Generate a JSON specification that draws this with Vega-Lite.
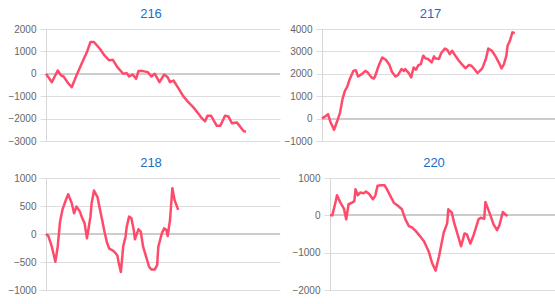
{
  "$schema": "https://vega.github.io/schema/vega-lite/v6.json",
  "padding": {"left": 7, "top": 8, "right": 0, "bottom": 0},
  "datasets": {
    "p216": [
      {"i":0,"v":0},{"i":5,"v":-375},{"i":10,"v":150},{"i":13,"v":-75},{"i":15,"v":-120},{"i":19,"v":-420},{"i":22,"v":-600},{"i":26,"v":-75},{"i":31,"v":520},{"i":35,"v":970},{"i":38,"v":1420},{"i":41,"v":1420},{"i":46,"v":1120},{"i":50,"v":820},{"i":54,"v":600},{"i":57,"v":630},{"i":61,"v":300},{"i":66,"v":0},{"i":69,"v":30},{"i":71,"v":-120},{"i":74,"v":-30},{"i":77,"v":-225},{"i":79,"v":120},{"i":83,"v":120},{"i":87,"v":75},{"i":90,"v":-120},{"i":93,"v":0},{"i":97,"v":-375},{"i":101,"v":-30},{"i":104,"v":-150},{"i":106,"v":-375},{"i":109,"v":-300},{"i":113,"v":-630},{"i":117,"v":-975},{"i":121,"v":-1230},{"i":126,"v":-1500},{"i":130,"v":-1760},{"i":133,"v":-1970},{"i":136,"v":-2120},{"i":138,"v":-1870},{"i":141,"v":-1870},{"i":146,"v":-2320},{"i":149,"v":-2320},{"i":153,"v":-1870},{"i":156,"v":-1910},{"i":159,"v":-2210},{"i":163,"v":-2170},{"i":166,"v":-2360},{"i":169,"v":-2570},{"i":171,"v":-2580}
    ],
    "p217": [
      {"i":0,"v":0},{"i":4,"v":150},{"i":5,"v":200},{"i":7,"v":-150},{"i":10,"v":-500},{"i":13,"v":-60},{"i":15,"v":270},{"i":17,"v":870},{"i":19,"v":1240},{"i":21,"v":1430},{"i":23,"v":1760},{"i":26,"v":2130},{"i":28,"v":2160},{"i":30,"v":1880},{"i":33,"v":1985},{"i":36,"v":2130},{"i":38,"v":2060},{"i":41,"v":1840},{"i":43,"v":1790},{"i":44,"v":1880},{"i":47,"v":2360},{"i":50,"v":2730},{"i":53,"v":2630},{"i":56,"v":2390},{"i":58,"v":2090},{"i":61,"v":1880},{"i":63,"v":1940},{"i":66,"v":2210},{"i":68,"v":2130},{"i":69,"v":2210},{"i":72,"v":2030},{"i":74,"v":1840},{"i":76,"v":2280},{"i":78,"v":2180},{"i":80,"v":2390},{"i":82,"v":2430},{"i":84,"v":2810},{"i":86,"v":2690},{"i":88,"v":2660},{"i":91,"v":2510},{"i":93,"v":2780},{"i":94,"v":2690},{"i":97,"v":2660},{"i":99,"v":2930},{"i":102,"v":3130},{"i":104,"v":3070},{"i":106,"v":2880},{"i":108,"v":3030},{"i":111,"v":2780},{"i":113,"v":2630},{"i":116,"v":2430},{"i":119,"v":2250},{"i":122,"v":2390},{"i":124,"v":2360},{"i":127,"v":2180},{"i":129,"v":2030},{"i":131,"v":2130},{"i":133,"v":2240},{"i":136,"v":2660},{"i":138,"v":3130},{"i":141,"v":3030},{"i":144,"v":2780},{"i":147,"v":2480},{"i":149,"v":2240},{"i":151,"v":2430},{"i":153,"v":2810},{"i":154,"v":3250},{"i":156,"v":3480},{"i":158,"v":3850},{"i":160,"v":3820}
    ],
    "p218": [
      {"i":0,"v":0},{"i":2,"v":-36},{"i":5,"v":-227},{"i":8,"v":-496},{"i":10,"v":-227},{"i":12,"v":220},{"i":14,"v":430},{"i":17,"v":610},{"i":19,"v":710},{"i":22,"v":550},{"i":24,"v":370},{"i":26,"v":490},{"i":29,"v":400},{"i":31,"v":280},{"i":33,"v":190},{"i":35,"v":-78},{"i":38,"v":310},{"i":39,"v":550},{"i":41,"v":776},{"i":44,"v":660},{"i":46,"v":450},{"i":48,"v":250},{"i":50,"v":40},{"i":52,"v":-143},{"i":54,"v":-260},{"i":57,"v":-293},{"i":59,"v":-330},{"i":61,"v":-383},{"i":62,"v":-500},{"i":64,"v":-680},{"i":66,"v":-220},{"i":68,"v":-48},{"i":69,"v":130},{"i":71,"v":310},{"i":73,"v":280},{"i":75,"v":72},{"i":76,"v":-96},{"i":79,"v":84},{"i":81,"v":42},{"i":83,"v":-227},{"i":86,"v":-436},{"i":88,"v":-580},{"i":90,"v":-633},{"i":93,"v":-633},{"i":95,"v":-555},{"i":96,"v":-227},{"i":99,"v":12},{"i":101,"v":100},{"i":103,"v":72},{"i":104,"v":-36},{"i":106,"v":250},{"i":108,"v":818},{"i":110,"v":600},{"i":113,"v":430}
    ],
    "p220": [
      {"i":0,"v":0},{"i":2,"v":0},{"i":5,"v":386},{"i":6,"v":540},{"i":9,"v":340},{"i":12,"v":180},{"i":14,"v":-108},{"i":16,"v":297},{"i":19,"v":340},{"i":21,"v":386},{"i":22,"v":700},{"i":24,"v":540},{"i":26,"v":610},{"i":29,"v":594},{"i":31,"v":638},{"i":34,"v":566},{"i":37,"v":431},{"i":39,"v":521},{"i":41,"v":790},{"i":44,"v":808},{"i":47,"v":808},{"i":49,"v":700},{"i":52,"v":521},{"i":55,"v":340},{"i":58,"v":270},{"i":62,"v":162},{"i":65,"v":-108},{"i":68,"v":-288},{"i":71,"v":-332},{"i":74,"v":-422},{"i":78,"v":-575},{"i":81,"v":-692},{"i":85,"v":-960},{"i":88,"v":-1275},{"i":91,"v":-1480},{"i":94,"v":-1096},{"i":98,"v":-467},{"i":101,"v":-216},{"i":102,"v":162},{"i":105,"v":72},{"i":107,"v":-198},{"i":110,"v":-512},{"i":113,"v":-827},{"i":116,"v":-485},{"i":118,"v":-512},{"i":121,"v":-755},{"i":124,"v":-512},{"i":128,"v":-108},{"i":130,"v":-63},{"i":133,"v":-90},{"i":134,"v":360},{"i":138,"v":27},{"i":141,"v":-243},{"i":144,"v":-395},{"i":146,"v":-270},{"i":149,"v":90},{"i":151,"v":27},{"i":153,"v":-18}
    ]
  },
  "vconcat": [
    {
      "spacing": 2,
      "hconcat": [
        {
          "title": {"text": "216", "dx": -12},
          "width": 234, "height": 112,
          "data": {"name": "p216"},
          "encoding": {
            "x": {"field": "i", "type": "quantitative", "scale": {"domain": [0, 200], "nice": false}, "axis": null},
            "y": {"field": "v", "type": "quantitative", "scale": {"domain": [-3000, 2000], "nice": false}, "axis": {"values": [-3000, -2000, -1000, 0, 1000, 2000]}}
          },
          "layer": [
            {"mark": {"type": "rule", "color": "#cccccc", "strokeWidth": 1.2}, "encoding": {"x": {"value": 0}, "x2": {"value": "width"}, "y": {"datum": 0}}},
            {"mark": {"type": "line", "color": "#ff4b6b", "strokeWidth": 2.5, "strokeJoin": "round"}}
          ]
        },
        {
          "title": {"text": "217", "dx": -12},
          "width": 241, "height": 112,
          "data": {"name": "p217"},
          "encoding": {
            "x": {"field": "i", "type": "quantitative", "scale": {"domain": [0, 200], "nice": false}, "axis": null},
            "y": {"field": "v", "type": "quantitative", "scale": {"domain": [-1000, 4000], "nice": false}, "axis": {"values": [-1000, 0, 1000, 2000, 3000, 4000]}}
          },
          "layer": [
            {"mark": {"type": "rule", "color": "#cccccc", "strokeWidth": 1.2}, "encoding": {"x": {"value": 0}, "x2": {"value": "width"}, "y": {"datum": 0}}},
            {"mark": {"type": "line", "color": "#ff4b6b", "strokeWidth": 2.5, "strokeJoin": "round"}}
          ]
        }
      ]
    },
    {
      "spacing": 10,
      "hconcat": [
        {
          "title": {"text": "218", "dx": -12},
          "width": 234, "height": 112,
          "data": {"name": "p218"},
          "encoding": {
            "x": {"field": "i", "type": "quantitative", "scale": {"domain": [0, 200], "nice": false}, "axis": null},
            "y": {"field": "v", "type": "quantitative", "scale": {"domain": [-1000, 1000], "nice": false}, "axis": {"values": [-1000, -500, 0, 500, 1000]}}
          },
          "layer": [
            {"mark": {"type": "rule", "color": "#cccccc", "strokeWidth": 1.2}, "encoding": {"x": {"value": 0}, "x2": {"value": "width"}, "y": {"datum": 0}}},
            {"mark": {"type": "line", "color": "#ff4b6b", "strokeWidth": 2.5, "strokeJoin": "round"}}
          ]
        },
        {
          "title": {"text": "220", "dx": -12},
          "width": 232, "height": 112,
          "data": {"name": "p220"},
          "encoding": {
            "x": {"field": "i", "type": "quantitative", "scale": {"domain": [0, 200], "nice": false}, "axis": null},
            "y": {"field": "v", "type": "quantitative", "scale": {"domain": [-2000, 1000], "nice": false}, "axis": {"values": [-2000, -1000, 0, 1000]}}
          },
          "layer": [
            {"mark": {"type": "rule", "color": "#cccccc", "strokeWidth": 1.2}, "encoding": {"x": {"value": 0}, "x2": {"value": "width"}, "y": {"datum": 0}}},
            {"mark": {"type": "line", "color": "#ff4b6b", "strokeWidth": 2.5, "strokeJoin": "round"}}
          ]
        }
      ]
    }
  ],
  "spacing": 11,
  "config": {
    "font": "Liberation Sans",
    "view": {"stroke": null},
    "title": {"fontSize": 13, "fontWeight": "normal", "color": "#1a6ec8", "offset": 3},
    "axisY": {
      "title": null,
      "format": "d",
      "grid": true,
      "gridColor": "#dddddd",
      "gridOpacity": 1,
      "gridWidth": 1,
      "labelFontSize": 10,
      "labelColor": "#666666",
      "labelPadding": 4,
      "tickSize": 6,
      "tickColor": "#dddddd",
      "domainColor": "#d6d6d6"
    }
  }
}
